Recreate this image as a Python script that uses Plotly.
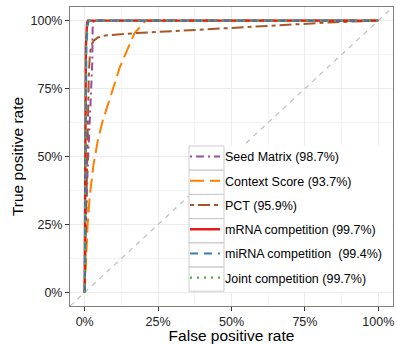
import plotly.graph_objects as go

# ---- data ----
names = ["Seed Matrix (98.7%)", "Context Score (93.7%)", "PCT (95.9%)",
         "mRNA competition (99.7%)", "miRNA competition  (99.4%)", "Joint competition (99.7%)"]

seed_fpr = [0, 0.004, 0.010, 0.016, 0.022, 0.026, 0.027, 0.030, 1.0]
seed_tpr = [0, 0.25, 0.45, 0.60, 0.70, 0.85, 0.97, 1.0, 1.0]

ctx_fpr = [0, 0.003, 0.006, 0.010, 0.017, 0.030, 0.045, 0.061, 0.085, 0.12, 0.17, 0.208, 1.0]
ctx_tpr = [0, 0.10, 0.18, 0.25, 0.35, 0.47, 0.56, 0.63, 0.71, 0.83, 0.954, 1.0, 1.0]

pct_fpr = [0, 0.005, 0.010, 0.014, 0.018, 0.023, 0.030, 0.045, 0.07, 0.177, 0.5, 0.85, 1.0]
pct_tpr = [0, 0.30, 0.60, 0.80, 0.88, 0.91, 0.925, 0.938, 0.945, 0.954, 0.973, 0.994, 1.0]

mrna_fpr = [0, 0.002, 0.004, 0.008, 0.011, 1.0]
mrna_tpr = [0, 0.50, 0.90, 0.99, 1.0, 1.0]

mirna_fpr = [0, 0.003, 0.006, 0.010, 0.014, 1.0]
mirna_tpr = [0, 0.50, 0.90, 0.98, 1.0, 1.0]

joint_fpr = [0, 0.002, 0.004, 0.008, 0.011, 1.0]
joint_tpr = [0, 0.50, 0.90, 0.99, 1.0, 1.0]

diag = [-0.05, 1.05]

tick_vals = [0, 0.25, 0.5, 0.75, 1.0]
tick_text = ["0%", "25%", "50%", "75%", "100%"]

colors = ["#984EA3", "#FF7F00", "#A65628", "#E41A1C", "#377EB8", "#4DAF4A"]
dashes = ["2px,4px,8px,4px", "14px,6px", "4px,4px,12px,4px", "solid", "8px,6px", "2px,5px"]
widths = [2, 2, 2, 2.4, 2, 2.2]

series = [(seed_fpr, seed_tpr), (ctx_fpr, ctx_tpr), (pct_fpr, pct_tpr),
          (mrna_fpr, mrna_tpr), (mirna_fpr, mirna_tpr), (joint_fpr, joint_tpr)]

fig = go.Figure()
fig.add_trace(go.Scatter(x=diag, y=diag, mode="lines", showlegend=False,
                         line=dict(color="#BEBEBE", width=1.2, dash="5px,5px"),
                         hoverinfo="skip"))
for i, (xs, ys) in enumerate(series):
    fig.add_trace(go.Scatter(x=xs, y=ys, mode="lines", name=names[i],
                             legendgroup="g%d" % i,
                             line=dict(color=colors[i], width=widths[i], dash=dashes[i])))

font = "Liberation Sans, Arial, Helvetica, sans-serif"
axis_common = dict(
    range=[-0.05, 1.05], tickvals=tick_vals, ticktext=tick_text,
    showgrid=True, gridcolor="#EBEBEB", gridwidth=1,
    minor=dict(showgrid=True, gridcolor="#F4F4F4", gridwidth=0.6, dtick=0.125, tick0=0.125),
    zeroline=False, showline=True, mirror=True, linecolor="#7F7F7F", linewidth=1,
    ticks="outside", ticklen=4, tickcolor="#333333", tickwidth=1,
    tickfont=dict(family=font, size=12.5, color="#222222"),
)
fig.update_xaxes(**axis_common, automargin=False,
                 title=dict(text="False positive rate",
                            font=dict(family=font, size=15.5, color="black")))
fig.update_yaxes(**axis_common, automargin=True,
                 title=dict(text="True positive rate", standoff=3,
                            font=dict(family=font, size=15.5, color="black")))

# ggplot-style legend background and key boxes
PW, PH = 323.0, 299.0
row_h = 24.2 / PH
top = (306 - 146) / PH
key_x0 = (189 - 70) / PW
key_x1 = (224 - 70) / PW
shapes = [dict(type="rect", xref="paper", yref="paper",
               x0=key_x0, x1=(392 - 70) / PW, y0=top - 6 * row_h, y1=top,
               line=dict(color="white", width=1), fillcolor="white", opacity=1,
               layer="above")]
for i in range(len(names)):
    shapes.append(dict(type="rect", xref="paper", yref="paper",
                       x0=key_x0, x1=key_x1, y0=top - (i + 1) * row_h, y1=top - i * row_h,
                       line=dict(color="#CCCCCC", width=1),
                       layer="above"))

fig.update_layout(
    width=397, height=344,
    margin=dict(l=70, r=4, t=7, b=38),
    paper_bgcolor="white", plot_bgcolor="white",
    showlegend=True,
    shapes=shapes,
    legend=dict(x=(185 - 70) / PW, y=top + 0.014, xanchor="left", yanchor="top",
                bgcolor="rgba(0,0,0,0)", borderwidth=0,
                font=dict(family=font, size=12.5, color="black"),
                tracegroupgap=5, itemwidth=30),
)

fig.write_html("out.html", config={"displayModeBar": False},
               post_script="document.body.style.margin='0';")
